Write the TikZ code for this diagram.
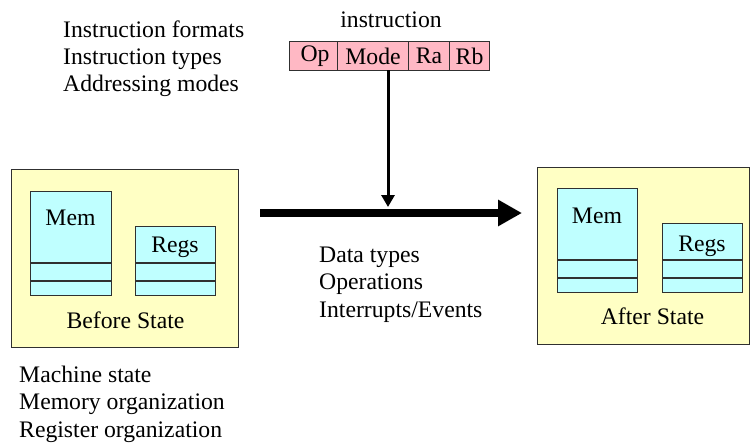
\documentclass[tikz,border=0pt]{standalone}
\usepackage{fontspec}
\setmainfont{Liberation Serif}
\usetikzlibrary{arrows.meta}
\definecolor{stateyellow}{HTML}{FFFFC4}
\definecolor{memcyan}{HTML}{BFFFFF}
\definecolor{instpink}{HTML}{FFB8C4}
\definecolor{edgegray}{HTML}{303030}
\tikzset{
  txt/.style={font=\fontsize{23.7}{28}\selectfont, inner sep=0pt, anchor=base west},
  ctxt/.style={font=\fontsize{23.7}{28}\selectfont, inner sep=0pt, anchor=base},
  statebox/.style={draw=edgegray, line width=1.3pt, fill=stateyellow, anchor=north west, inner sep=0pt},
  cellbox/.style={draw=edgegray, line width=1.3pt, fill=memcyan, anchor=north west, inner sep=0pt},
  fieldbox/.style={draw=edgegray, line width=1.1pt, fill=instpink, anchor=north west, inner sep=0pt,
    minimum height=29pt, font=\fontsize{23.7}{28}\selectfont},
}
\begin{document}
\begin{tikzpicture}[x=1pt,y=-1pt]
\useasboundingbox (0,0) rectangle (751,447);
% top-left text
\node[txt] (t1) at (63,37) {Instruction formats};
\node[txt] (t2) at (63,64) {Instruction types};
\node[txt] (t3) at (63,91) {Addressing modes};
% instruction
\node[ctxt] (ilabel) at (391,27) {instruction};
\node[fieldbox, minimum width=48pt] (op) at (289,41) {\hspace{3pt}Op};
\node[fieldbox, minimum width=71pt] (mode) at (337,41) {Mode};
\node[fieldbox, minimum width=41pt] (ra) at (408,41) {Ra};
\node[fieldbox, minimum width=40pt] (rb) at (449,41) {Rb};
% before state
\node[statebox, minimum width=227pt, minimum height=178pt] (before) at (11,169) {};
\node[cellbox, minimum width=81pt, minimum height=104pt] (mem1) at (30,191) {};
\node[cellbox, minimum width=80pt, minimum height=69pt] (regs1) at (135,226) {};
\draw[edgegray, line width=1.3pt] (mem1.west |- 0,263) -- (mem1.east |- 0,263);
\draw[edgegray, line width=1.3pt] (mem1.west |- 0,281) -- (mem1.east |- 0,281);
\draw[edgegray, line width=1.3pt] (regs1.west |- 0,263) -- (regs1.east |- 0,263);
\draw[edgegray, line width=1.3pt] (regs1.west |- 0,281) -- (regs1.east |- 0,281);
\node[ctxt] (mem1t) at (70.5,225) {Mem};
\node[ctxt] (regs1t) at (175,252) {Regs};
\node[ctxt] (beforet) at (125.5,328) {Before State};
% after state
\node[statebox, minimum width=212pt, minimum height=177pt] (after) at (537,167) {};
\node[cellbox, minimum width=80pt, minimum height=104pt] (mem2) at (557,188) {};
\node[cellbox, minimum width=80pt, minimum height=69pt] (regs2) at (662,223) {};
\draw[edgegray, line width=1.3pt] (mem2.west |- 0,260) -- (mem2.east |- 0,260);
\draw[edgegray, line width=1.3pt] (mem2.west |- 0,278) -- (mem2.east |- 0,278);
\draw[edgegray, line width=1.3pt] (regs2.west |- 0,260) -- (regs2.east |- 0,260);
\draw[edgegray, line width=1.3pt] (regs2.west |- 0,278) -- (regs2.east |- 0,278);
\node[ctxt] (mem2t) at (597,223) {Mem};
\node[ctxt] (regs2t) at (702,251) {Regs};
\node[ctxt] (aftert) at (652.5,324) {After State};
% arrows
\coordinate (vtop) at (388,70);
\coordinate (vend) at (388,207);
\draw[line width=3pt, -{Triangle[width=13pt,length=12pt]}] (vtop) -- (vend);
\coordinate (hstart) at (260,213);
\coordinate (hend) at (522,213);
\draw[line width=8pt, -{Triangle[width=25pt,length=24pt]}] (hstart) -- (hend);
% middle text
\node[txt] (m1) at (319,262) {Data types};
\node[txt] (m2) at (319,289) {Operations};
\node[txt] (m3) at (319,317) {Interrupts/Events};
% bottom text
\node[txt] (b1) at (19,382) {Machine state};
\node[txt] (b2) at (19,409) {Memory organization};
\node[txt] (b3) at (19,437) {Register organization};
\end{tikzpicture}
\end{document}
